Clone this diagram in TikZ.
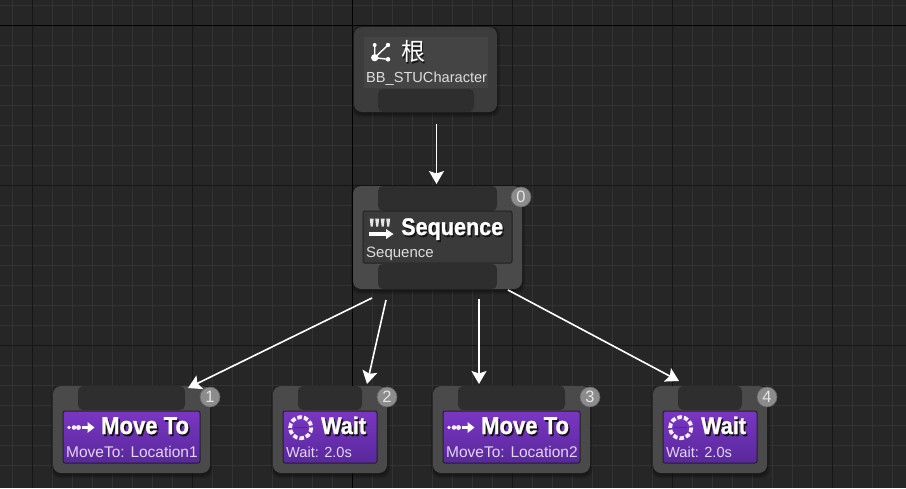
\documentclass[tikz,border=0pt]{standalone}
\usepackage{fontspec}
\setmainfont{Liberation Sans}
\newfontfamily\titlefont[FakeStretch=0.9,BoldFeatures={FakeBold=1.0}]{Liberation Sans}
\newfontfamily\cjkfont{Noto Sans CJK SC}
\usetikzlibrary{arrows.meta}
\definecolor{bgc}{HTML}{262626}
\definecolor{minorc}{HTML}{333333}
\definecolor{majorc}{HTML}{161616}
\definecolor{outerc}{HTML}{4A4A4A}
\definecolor{rootc}{HTML}{3C3C3C}
\definecolor{panelc}{HTML}{444444}
\definecolor{pinc}{HTML}{2E2E2E}
\definecolor{seqc}{HTML}{3A3A3A}
\definecolor{purpT}{HTML}{7A36C4}
\definecolor{purpB}{HTML}{58289A}
\definecolor{badgec}{HTML}{8C8C8C}
\definecolor{subc}{HTML}{DDDDDD}
\definecolor{subp}{HTML}{E2D6F0}
\definecolor{edgec}{HTML}{222222}
\newcommand{\shtitle}[2]{\titlefont\fontsize{#1}{#1}\selectfont\bfseries\rlap{\hspace{1.5pt}\raisebox{-2pt}{\color{black!92}#2}}#2}
\tikzset{
  x=1pt,y=-1pt,
  outerbox/.style={draw=none,fill=outerc,rounded corners=8pt,inner sep=0pt},
  pinbox/.style={draw=none,fill=pinc,rounded corners=5pt,inner sep=0pt},
  seqbox/.style={draw=edgec,line width=1pt,fill=seqc,rounded corners=2pt,inner sep=0pt},
  purplebox/.style={draw=edgec,line width=1pt,top color=purpT,bottom color=purpB,rounded corners=2pt,inner sep=0pt},
  badge/.style={circle,fill=badgec,draw=badgec!70!black,line width=.6pt,minimum size=20pt,inner sep=0pt,text=white!90!black,font=\fontsize{16.5}{16.5}\selectfont},
  titletext/.style={anchor=base west,inner sep=0pt,text=white},
  subtext/.style={anchor=base west,inner sep=0pt,text=subc,font=\fontsize{14.6}{14.6}\selectfont},
  subptext/.style={subtext,text=subp},
  moveto/.style={subptext,font=\fontsize{15.5}{15.5}\selectfont},
  flow/.style={draw=white,line width=1.6pt,-{Stealth[width=15pt,length=13pt,inset=2.5pt]}},
}
\newcommand{\dropshadow}[4]{%
  \fill[black,opacity=.16,rounded corners=9pt] (#1-2,#2-1) rectangle (#3+3,#4+5);
  \fill[black,opacity=.22,rounded corners=8pt] (#1,#2) rectangle (#3+1,#4+3);}
\newcommand{\waiticon}[2]{%
  \draw[white!92!purpT,line width=3.8pt,dash pattern=on 4.6pt off 2pt] (#1,#2) circle (10.6);
  \draw[black!75,line width=.9pt] (#1-6.5,#2) -- (#1+6.5,#2);}
\newcommand{\moveicon}[2]{%
  \fill[white!92!purpT] (#1,#2) circle (1.9) (#1+5,#2) circle (2.3) (#1+9.5,#2) circle (2.5);
  \draw[white,line width=3.6pt] (#1+13,#2) -- (#1+20,#2);
  \fill[white] (#1+18.5,#2-5.5) -- (#1+25.5,#2) -- (#1+18.5,#2+5.5) -- cycle;}
\begin{document}
\begin{tikzpicture}
\useasboundingbox (0,0) rectangle (906,488);
\fill[bgc] (0,0) rectangle (906,488);
% grid
\foreach \gx in {12.5,32.5,...,900}{\draw[minorc,line width=1pt] (\gx,0) -- (\gx,488);}
\foreach \gy in {5.5,25.5,...,485}{\draw[minorc,line width=1pt] (0,\gy) -- (906,\gy);}
\foreach \gx in {32.5,192.5,512.5,672.5,832.5}{\draw[majorc,line width=1pt] (\gx,0) -- (\gx,488);}
\foreach \gy in {185.5,345.5}{\draw[majorc,line width=1pt] (0,\gy) -- (906,\gy);}
\draw[black,line width=1pt] (352.5,0) -- (352.5,488);
\draw[black,line width=1pt] (0,25.5) -- (906,25.5);

% root
\dropshadow{354}{27}{497}{112}
\node[outerbox,fill=rootc,minimum width=143,minimum height=85] (root) at (425.5,69.5) {};
\node[draw=none,fill=panelc,inner sep=0pt,minimum width=124,minimum height=51] (rootpanel) at (426,62.5) {};
\node[pinbox,minimum width=96,minimum height=23] (rootpin) at (426,100.5) {};
\node[titletext,font=\fontsize{24}{24}\selectfont\cjkfont] (roottitle) at (401,60) {\rlap{\hspace{1.5pt}\raisebox{-2pt}{\color{black!92}根}}根};
\node[subtext] (rootsub) at (366,82) {BB\_STUCharacter};
\draw[white,line width=1.4pt] (374.7,57.7) -- (388,45) (374.7,57.7) -- (388,59.3) (374.7,57.7) -- (374.7,45);
\fill[white] (374.7,57.7) circle (3.6) (374.7,45) circle (2) (388,45) circle (2.2) (388,59.3) circle (2.3);

% sequence
\dropshadow{353}{186}{522}{289}
\node[outerbox,minimum width=169,minimum height=103] (seq) at (437.5,237.5) {};
\node[pinbox,minimum width=119,minimum height=25] (seqtop) at (437.5,198.5) {};
\node[pinbox,minimum width=119,minimum height=25] (seqbot) at (437.5,276.5) {};
\node[seqbox,minimum width=149,minimum height=52] (seqpanel) at (437.5,237) {};
\node[titletext] (seqtitle) at (401,235) {\shtitle{24}{Sequence}};
\node[subtext,font=\fontsize{15}{15}\selectfont] (seqsub) at (366,257) {Sequence};
\foreach \bx in {371.7,377.2,382.7,388.2}{\fill[white!90!black] (\bx-2,218.5) -- (\bx+2,218.5) -- (\bx+1,226.5) -- (\bx-1,226.5) -- cycle;}
\draw[white,line width=4.4pt] (369,234) -- (388,234);
\fill[white] (386,229) -- (393.5,234) -- (386,239) -- cycle;
\node[badge] (b0) at (521,197) {0};

% children
\dropshadow{53}{386}{210}{473}
\node[outerbox,minimum width=157,minimum height=87] (mv1) at (131.5,429.5) {};
\node[pinbox,minimum width=107,minimum height=24] (mv1pin) at (131.5,398) {};
\node[purplebox,minimum width=137,minimum height=52] (mv1panel) at (131.5,437) {};
\node[titletext] (mv1title) at (101,434) {\shtitle{24.5}{Move To}};
\node[moveto] (mv1sub) at (66,457) {MoveTo: Location1};
\moveicon{69}{427.5}
\node[badge] (b1) at (210,397) {1};

\dropshadow{273}{386}{387}{473}
\node[outerbox,minimum width=114,minimum height=87] (w2) at (330,429.5) {};
\node[pinbox,minimum width=64,minimum height=24] (w2pin) at (330,398) {};
\node[purplebox,minimum width=94,minimum height=52] (w2panel) at (330,437) {};
\node[titletext] (w2title) at (321,434) {\shtitle{24}{Wait}};
\node[subptext] (w2sub) at (286,457) {Wait: 2.0s};
\waiticon{300.7}{427.7}
\node[badge] (b2) at (387,397) {2};

\dropshadow{433}{386}{590}{473}
\node[outerbox,minimum width=157,minimum height=87] (mv3) at (511.5,429.5) {};
\node[pinbox,minimum width=107,minimum height=24] (mv3pin) at (511.5,398) {};
\node[purplebox,minimum width=137,minimum height=52] (mv3panel) at (511.5,437) {};
\node[titletext] (mv3title) at (481,434) {\shtitle{24.5}{Move To}};
\node[moveto] (mv3sub) at (446,457) {MoveTo: Location2};
\moveicon{449}{427.5}
\node[badge] (b3) at (590,397) {3};

\dropshadow{653}{386}{767}{473}
\node[outerbox,minimum width=114,minimum height=87] (w4) at (710,429.5) {};
\node[pinbox,minimum width=64,minimum height=24] (w4pin) at (710,398) {};
\node[purplebox,minimum width=94,minimum height=52] (w4panel) at (710,437) {};
\node[titletext] (w4title) at (701,434) {\shtitle{24}{Wait}};
\node[subptext] (w4sub) at (666,457) {Wait: 2.0s};
\waiticon{680.7}{427.7}
\node[badge] (b4) at (767,397) {4};

% connectors
\coordinate (rootout) at (436.5,124);
\coordinate (seqin) at (436.5,184);
\coordinate (s1) at (372,298);
\coordinate (s2) at (386,300);
\coordinate (s3) at (479,299);
\coordinate (s4) at (508,290);
\coordinate (t1) at (188,388);
\coordinate (t2) at (367,384);
\coordinate (t3) at (479,384);
\coordinate (t4) at (679,381);
\draw[flow] (rootout) -- (seqin);
\draw[flow] (s1) -- (t1);
\draw[flow] (s2) -- (t2);
\draw[flow] (s3) -- (t3);
\draw[flow] (s4) -- (t4);
\end{tikzpicture}
\end{document}
